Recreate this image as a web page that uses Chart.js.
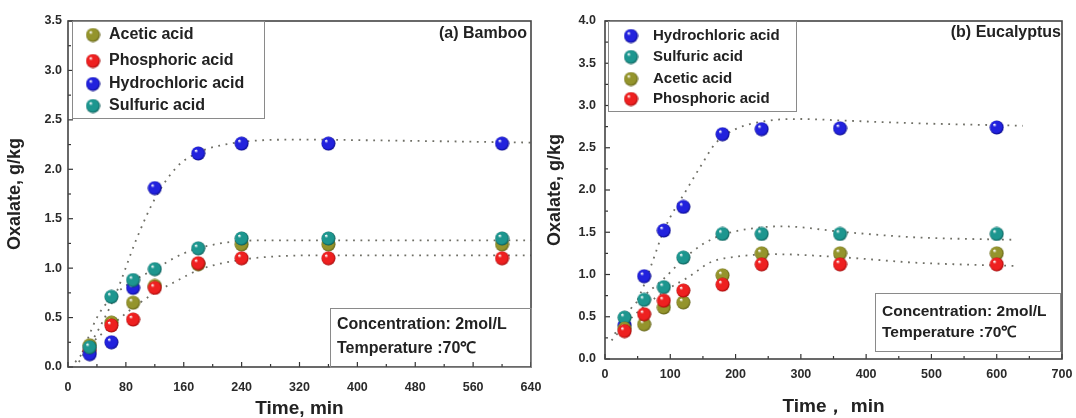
<!DOCTYPE html>
<html>
<head>
<meta charset="utf-8">
<script src="https://cdn.jsdelivr.net/npm/chart.js@4.4.0/dist/chart.umd.min.js"></script>
<style>
  body { margin: 0; background: #fff; width: 1076px; height: 418px; overflow: hidden; position: relative; }
  #bamboo { position: absolute; left: 0; top: 0; }
  #eucalyptus { position: absolute; left: 540px; top: 0; }
</style>
</head>
<body>
<canvas id="bamboo" width="556" height="418"></canvas>
<canvas id="eucalyptus" width="536" height="418"></canvas>
<script>
// sampling times, min
const times = [30, 60, 90, 120, 180, 240, 360, 600];

// (a) Bamboo, oxalate g/kg
const bambooAcetic = [0.22, 0.45, 0.65, 0.82, 1.04, 1.24, 1.24, 1.24];
const bambooPhosphoric = [0.17, 0.42, 0.48, 0.80, 1.05, 1.10, 1.10, 1.10];
const bambooHydrochloric = [0.13, 0.25, 0.80, 1.81, 2.16, 2.26, 2.26, 2.26];
const bambooSulfuric = [0.20, 0.71, 0.88, 0.99, 1.20, 1.30, 1.30, 1.30];

// (b) Eucalyptus, oxalate g/kg
const eucHydrochloric = [0.40, 0.98, 1.52, 1.80, 2.66, 2.72, 2.73, 2.74];
const eucSulfuric = [0.49, 0.70, 0.85, 1.20, 1.48, 1.48, 1.48, 1.48];
const eucAcetic = [0.36, 0.41, 0.61, 0.67, 0.99, 1.25, 1.25, 1.25];
const eucPhosphoric = [0.33, 0.53, 0.69, 0.81, 0.88, 1.12, 1.12, 1.12];

// dotted fit curves
const bambooHclFitX = [15, 40, 65, 95, 120, 150, 180, 210, 260, 320, 450, 640];
const bambooHclFitY = [0.05, 0.35, 0.72, 1.30, 1.70, 2.02, 2.17, 2.24, 2.29, 2.30, 2.29, 2.27];
const bambooSulFitX = [20, 40, 60, 90, 120, 160, 210, 260, 640];
const bambooSulFitY = [0.15, 0.50, 0.70, 0.87, 0.99, 1.15, 1.25, 1.28, 1.28];
const bambooPhoFitX = [10, 30, 60, 90, 120, 150, 180, 220, 270, 350, 640];
const bambooPhoFitY = [0.05, 0.22, 0.42, 0.60, 0.75, 0.87, 0.98, 1.06, 1.11, 1.13, 1.13];

const eucHclFitX = [50, 60, 75, 90, 127, 148, 169, 200, 250, 300, 370, 475, 640];
const eucHclFitY = [0.70, 0.88, 1.20, 1.52, 2.03, 2.30, 2.55, 2.72, 2.82, 2.84, 2.82, 2.79, 2.76];
const eucSulFitX = [15, 40, 60, 90, 120, 150, 180, 230, 270, 370, 475, 630];
const eucSulFitY = [0.30, 0.60, 0.75, 0.95, 1.18, 1.36, 1.47, 1.55, 1.57, 1.50, 1.44, 1.41];
const eucLowFitX = [10, 45, 95, 128, 163, 200, 260, 370, 475, 630];
const eucLowFitY = [0.22, 0.52, 0.82, 0.97, 1.15, 1.21, 1.24, 1.20, 1.14, 1.10];

const FONT = '"Liberation Sans", Arial, sans-serif';

function sphere(base, dark) {
	const c = document.createElement('canvas');
	c.width = 15;
	c.height = 15;
	const g = c.getContext('2d');
	const grad = g.createRadialGradient(5, 4.5, 0.4, 7.5, 7.5, 7.5);
	grad.addColorStop(0, '#ffffff');
	grad.addColorStop(0.22, base);
	grad.addColorStop(0.75, base);
	grad.addColorStop(1, dark);
	g.fillStyle = grad;
	g.beginPath();
	g.arc(7.5, 7.5, 7, 0, Math.PI * 2);
	g.fill();
	return c;
}

const balls = {
	hcl: sphere('#2222dd', '#00006e'),
	sul: sphere('#1d968f', '#074a46'),
	ace: sphere('#94942c', '#4f4f0c'),
	pho: sphere('#ee2020', '#8a0000'),
};

function points(xs, ys) {
	return xs.map((x, i) => ({ x: x, y: ys[i] }));
}

function markSet(label, ys, ball, order) {
	return {
		label: label,
		data: points(times, ys),
		pointStyle: ball,
		pointRadius: 7,
		showLine: false,
		order: order,
	};
}

function fitSet(xs, ys) {
	return {
		label: 'fit',
		data: points(xs, ys),
		showLine: true,
		borderColor: 'rgba(95,95,85,0.9)',
		borderWidth: 1.8,
		borderDash: [1.8, 5.6],
		pointRadius: 0,
		cubicInterpolationMode: 'monotone',
		order: 10,
	};
}

// frame, inward ticks, legend and note boxes
const decor = {
	id: 'decor',
	afterDraw(chart, args, opts) {
		const ctx = chart.ctx;
		const a = chart.chartArea;
		ctx.save();

		['x', 'y'].forEach((id) => {
			const s = chart.scales[id];
			const step = s.options.ticks.stepSize;
			ctx.strokeStyle = '#333';
			ctx.lineWidth = 1.2;
			for (let v = s.min; v <= s.max + 1e-9; v += step / 2) {
				const major = Math.abs(Math.round(v / step) * step - v) < 1e-9;
				const len = major ? 5 : 3;
				const p = s.getPixelForValue(v);
				ctx.beginPath();
				if (id === 'x') {
					ctx.moveTo(p, a.bottom);
					ctx.lineTo(p, a.bottom - len);
				} else {
					ctx.moveTo(a.left, p);
					ctx.lineTo(a.left + len, p);
				}
				ctx.stroke();
			}
		});

		ctx.strokeStyle = '#444';
		ctx.lineWidth = 1.6;
		ctx.strokeRect(a.left, a.top, a.right - a.left, a.bottom - a.top);

		// legend
		const lg = opts.legend;
		ctx.fillStyle = '#fff';
		ctx.fillRect(lg.box[0], lg.box[1], lg.box[2], lg.box[3]);
		ctx.strokeStyle = '#8a8a8a';
		ctx.lineWidth = 1;
		ctx.strokeRect(lg.box[0] + 0.5, lg.box[1] + 0.5, lg.box[2], lg.box[3]);
		ctx.font = lg.font;
		ctx.textBaseline = 'middle';
		ctx.textAlign = 'left';
		ctx.fillStyle = '#222';
		lg.items.forEach((it, i) => {
			const y = lg.rows[i];
			ctx.drawImage(it.ball, lg.markX - 7.5, y - 7.5);
			ctx.fillText(it.text, lg.textX, y);
		});

		// panel tag
		ctx.font = opts.tag.font;
		ctx.textAlign = 'right';
		ctx.fillText(opts.tag.text, opts.tag.x, opts.tag.y);

		// note box
		const nb = opts.note;
		ctx.strokeStyle = '#8a8a8a';
		ctx.strokeRect(nb.box[0] + 0.5, nb.box[1] + 0.5, nb.box[2], nb.box[3]);
		ctx.font = nb.font;
		ctx.textAlign = 'left';
		nb.lines.forEach((t, i) => ctx.fillText(t, nb.x, nb.rows[i]));

		ctx.restore();
	},
};

function axisFont(size) {
	return { family: FONT, size: size, weight: 'bold' };
}

function makeChart(id, datasets, cfg) {
	return new Chart(document.getElementById(id), {
		type: 'scatter',
		data: { datasets: datasets },
		options: {
			responsive: false,
			animation: false,
			layout: { padding: { top: 21, right: cfg.padRight, left: 0, bottom: 0 } },
			plugins: {
				legend: { display: false },
				tooltip: { enabled: false },
				decor: cfg.decor,
			},
			scales: {
				x: {
					type: 'linear',
					min: 0,
					max: cfg.xMax,
					border: { display: false },
					grid: { display: false, drawTicks: false },
					ticks: { stepSize: cfg.xStep, padding: cfg.xPad, color: '#2a2a2a', font: axisFont(12.5) },
					title: {
						display: true,
						text: cfg.xTitle,
						color: '#222',
						font: { family: FONT, size: 19, weight: 'bold', lineHeight: 1 },
						padding: { top: 0, bottom: cfg.xTitlePad },
					},
					afterFit: (s) => {
						s.height = cfg.xHeight;
						s.paddingLeft = 0;
						s.paddingRight = 0;
					},
				},
				y: {
					type: 'linear',
					min: 0,
					max: cfg.yMax,
					border: { display: false },
					grid: { display: false, drawTicks: false },
					ticks: {
						stepSize: 0.5,
						padding: cfg.yPad,
						color: '#2a2a2a',
						font: axisFont(12.5),
						callback: (v) => v.toFixed(1),
					},
					title: {
						display: true,
						text: 'Oxalate, g/kg',
						color: '#222',
						font: { family: FONT, size: 18, weight: 'bold', lineHeight: 1.2 },
						padding: { top: cfg.yTitlePad, bottom: 0 },
					},
					afterFit: (s) => {
						s.width = cfg.yWidth;
						s.paddingTop = 0;
						s.paddingBottom = 0;
					},
				},
			},
		},
		plugins: [decor],
	});
}

makeChart('bamboo', [
	markSet('Sulfuric acid', bambooSulfuric, balls.sul, 0),
	markSet('Hydrochloric acid', bambooHydrochloric, balls.hcl, 1),
	markSet('Phosphoric acid', bambooPhosphoric, balls.pho, 2),
	markSet('Acetic acid', bambooAcetic, balls.ace, 3),
	fitSet(bambooHclFitX, bambooHclFitY),
	fitSet(bambooSulFitX, bambooSulFitY),
	fitSet(bambooPhoFitX, bambooPhoFitY),
], {
	xMax: 640, xStep: 80, yMax: 3.5,
	padRight: 25, xHeight: 51, yWidth: 68,
	xPad: 13, yPad: 6, xTitlePad: 0, yTitlePad: 4,
	xTitle: 'Time, min',
	decor: {
		legend: {
			box: [72, 21, 192, 97],
			markX: 93, textX: 109,
			rows: [35, 61, 84, 106],
			font: 'bold 16px ' + FONT,
			items: [
				{ ball: balls.ace, text: 'Acetic acid' },
				{ ball: balls.pho, text: 'Phosphoric acid' },
				{ ball: balls.hcl, text: 'Hydrochloric acid' },
				{ ball: balls.sul, text: 'Sulfuric acid' },
			],
		},
		tag: { text: '(a) Bamboo', x: 527, y: 34, font: 'bold 16px ' + FONT },
		note: {
			box: [330, 308, 201, 59],
			x: 337, rows: [325, 349],
			font: 'bold 16px ' + FONT,
			lines: ['Concentration: 2mol/L', 'Temperature :70℃'],
		},
	},
});

makeChart('eucalyptus', [
	markSet('Phosphoric acid', eucPhosphoric, balls.pho, 0),
	markSet('Acetic acid', eucAcetic, balls.ace, 1),
	markSet('Sulfuric acid', eucSulfuric, balls.sul, 2),
	markSet('Hydrochloric acid', eucHydrochloric, balls.hcl, 3),
	fitSet(eucHclFitX, eucHclFitY),
	fitSet(eucSulFitX, eucSulFitY),
	fitSet(eucLowFitX, eucLowFitY),
], {
	xMax: 700, xStep: 100, yMax: 4.0,
	padRight: 14, xHeight: 59, yWidth: 65,
	xPad: 8, yPad: 9, xTitlePad: 2, yTitlePad: 4,
	xTitle: 'Time， min',
	decor: {
		legend: {
			box: [68, 21, 188, 90],
			markX: 91, textX: 113,
			rows: [36, 57, 79, 99],
			font: 'bold 15px ' + FONT,
			items: [
				{ ball: balls.hcl, text: 'Hydrochloric acid' },
				{ ball: balls.sul, text: 'Sulfuric acid' },
				{ ball: balls.ace, text: 'Acetic acid' },
				{ ball: balls.pho, text: 'Phosphoric acid' },
			],
		},
		tag: { text: '(b) Eucalyptus', x: 521, y: 33, font: 'bold 16px ' + FONT },
		note: {
			box: [335, 293, 185, 58],
			x: 342, rows: [312, 333],
			font: 'bold 15.5px ' + FONT,
			lines: ['Concentration: 2mol/L', 'Temperature :70℃'],
		},
	},
});
</script>
</body>
</html>
